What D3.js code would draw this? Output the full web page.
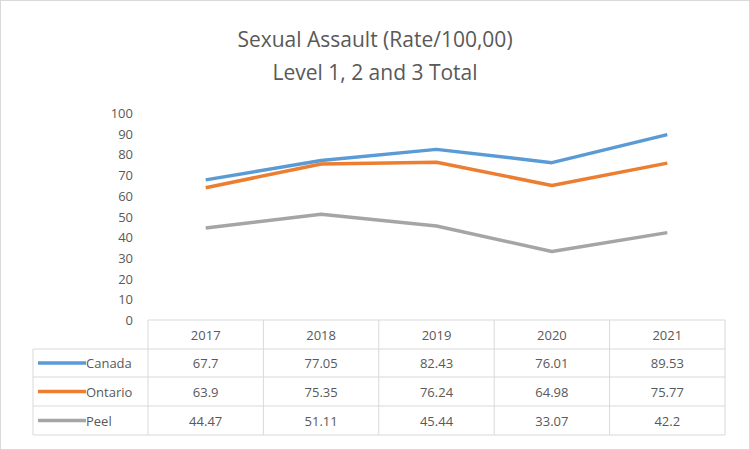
<!DOCTYPE html>
<html><head><meta charset="utf-8">
<script src="https://cdn.jsdelivr.net/npm/d3@7"></script>
<style>body{margin:0;background:#fff}text{font-family:"Open Sans","Noto Sans",sans-serif}</style>
</head><body><svg id="c" width="750" height="450"></svg>
<script>
const years=["2017","2018","2019","2020","2021"];
const canada=[67.7,77.05,82.43,76.01,89.53];
const ontario=[63.9,75.35,76.24,64.98,75.77];
const peel=[44.47,51.11,45.44,33.07,42.2];
const seriesNames=["Canada","Ontario","Peel"];
const colors=["#5b9bd5","#ed7d31","#a5a5a5"];
const yTicks=[0,10,20,30,40,50,60,70,80,90,100];
const series=[canada,ontario,peel];

const svg=d3.select("#c");
svg.append("rect").attr("x",0.5).attr("y",0.5).attr("width",749).attr("height",449).attr("fill","#fff").attr("stroke","#d9d9d9");
const txt="#595959";
svg.append("text").attr("x",375).attr("y",47).attr("text-anchor","middle").attr("font-size",21).attr("fill",txt).text("Sexual Assault (Rate/100,00)");
svg.append("text").attr("x",375).attr("y",80).attr("text-anchor","middle").attr("font-size",21).attr("fill",txt).text("Level 1, 2 and 3 Total");

const x0=148,x1=725,y0=320,yTop=113;
const x=d3.scaleBand().domain(years).range([x0,x1]);
const y=d3.scaleLinear().domain([0,100]).range([y0,yTop]);
const rows=[320,349,377,406,435];
const grid="#d9d9d9";

svg.selectAll(".yt").data(yTicks).enter().append("text").attr("x",133).attr("y",d=>y(d)+5)
 .attr("text-anchor","end").attr("font-size",13).attr("fill",txt).text(d=>d);

svg.append("line").attr("x1",x0).attr("x2",x1).attr("y1",y0).attr("y2",y0).attr("stroke",grid);
rows.slice(1).forEach(r=>svg.append("line").attr("x1",33).attr("x2",x1).attr("y1",r).attr("y2",r).attr("stroke",grid));
svg.append("line").attr("x1",33).attr("x2",33).attr("y1",rows[1]).attr("y2",rows[4]).attr("stroke",grid);
[x0,...years.map(d=>x(d)+x.bandwidth())].forEach(v=>svg.append("line").attr("x1",v).attr("x2",v).attr("y1",y0).attr("y2",rows[4]).attr("stroke",grid));

years.forEach(yr=>svg.append("text").attr("x",x(yr)+x.bandwidth()/2).attr("y",340).attr("text-anchor","middle").attr("font-size",13).attr("fill",txt).text(yr));

const line=d3.line().x((d,i)=>x(years[i])+x.bandwidth()/2).y(d=>y(d));
series.forEach((s,k)=>{
 svg.append("path").attr("d",line(s)).attr("fill","none").attr("stroke",colors[k]).attr("stroke-width",3.5).attr("stroke-linejoin","round");
 const cy=(rows[k+1]+rows[k+2])/2;
 svg.append("line").attr("x1",38).attr("x2",86).attr("y1",cy).attr("y2",cy).attr("stroke",colors[k]).attr("stroke-width",3.5);
 svg.append("text").attr("x",86).attr("y",cy+5).attr("font-size",13).attr("fill",txt).text(seriesNames[k]);
 s.forEach((v,i)=>svg.append("text").attr("x",x(years[i])+x.bandwidth()/2).attr("y",cy+5).attr("text-anchor","middle").attr("font-size",13).attr("fill",txt).text(v));
});
</script></body></html>
